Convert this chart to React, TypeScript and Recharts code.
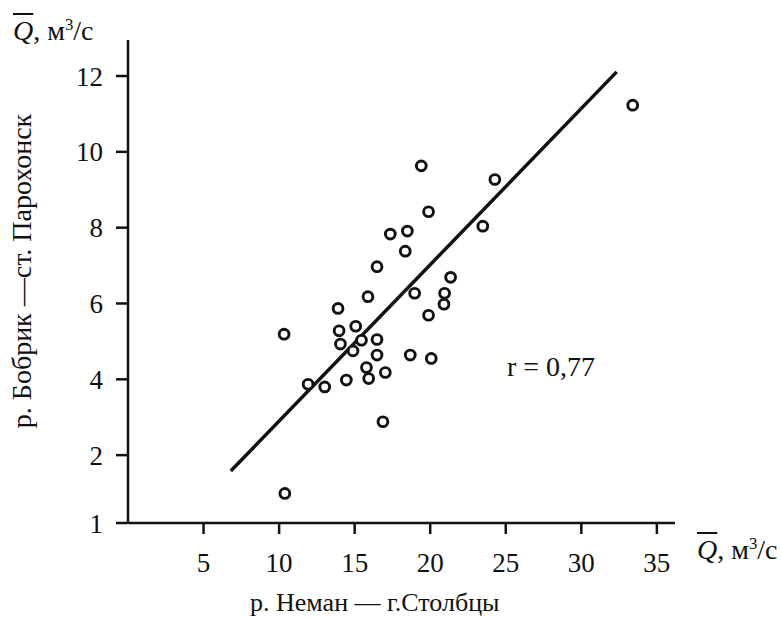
import { ScatterChart, Scatter, XAxis, YAxis, ReferenceLine } from 'recharts';

// mean flow, р. Неман — г.Столбцы (m3/s)
const nemanQ = [
  19.41, 24.28, 19.89, 17.36, 18.49, 23.48, 18.35, 16.48, 21.35, 18.97, 20.95,
  15.88, 20.91, 13.9, 19.89, 10.33, 15.07, 13.97, 14.06, 15.45, 16.48, 14.89,
  16.48, 18.68, 20.07, 15.78, 17.03, 15.93, 14.45, 11.92, 13.02, 16.87, 10.38, 33.4,
];
// mean flow, р. Бобрик — ст. Парохонск (m3/s)
const bobrikQ = [
  9.63, 9.27, 8.42, 7.83, 7.91, 8.04, 7.38, 6.97, 6.69, 6.27, 6.27,
  6.18, 5.98, 5.87, 5.69, 5.19, 5.4, 5.28, 4.93, 5.03, 5.05, 4.75,
  4.64, 4.64, 4.55, 4.31, 4.18, 4.02, 3.98, 3.87, 3.8, 2.88, 0.99, 11.23,
];
// regression line ends
const fitX = [6.8, 32.34];
const fitY = [1.58, 12.11];

const xTicks = [5, 10, 15, 20, 25, 30, 35];
const yOrigin = 0.21; // the axis corner is labelled "1"
const yTicks = [yOrigin, 2, 4, 6, 8, 10, 12];

const points = nemanQ.map((x, i) => ({ x, y: bobrikQ[i] }));

const font = '"Liberation Serif", "Times New Roman", serif';
const ink = '#111';

const Ring = (props: any) => (
  <circle cx={props.cx} cy={props.cy} r={4.9} fill="#fff" stroke={ink} strokeWidth={2.9} />
);

const Unit = () => (
  <>
    <span style={{ fontStyle: 'italic', textDecoration: 'overline' }}>Q</span>, м
    <sup style={{ fontSize: '0.6em', verticalAlign: '0.6em', lineHeight: 0 }}>3</sup>/с
  </>
);

const textBase = {
  position: 'absolute' as const,
  fontFamily: font,
  color: ink,
  fontSize: 26,
  lineHeight: 1,
  whiteSpace: 'nowrap' as const,
};

const tickStyle = { fill: ink, fontSize: 27, fontFamily: font, style: { fontFamily: font } };

export default function App() {
  return (
    <div
      style={{
        position: 'absolute',
        left: 0,
        top: 0,
        width: 781,
        height: 618,
        background: '#fff',
        fontFamily: font,
      }}
    >
      <ScatterChart
        width={781}
        height={618}
        margin={{ top: 40, right: 106, bottom: 35, left: 28 }}
        style={{ fontFamily: font }}
      >
        <XAxis
          type="number"
          dataKey="x"
          domain={[0, 36.2]}
          ticks={xTicks}
          tickSize={11}
          tickMargin={19}
          height={60}
          axisLine={{ stroke: ink, strokeWidth: 2.5 }}
          tickLine={{ stroke: ink, strokeWidth: 2.5 }}
          tick={tickStyle}
        />
        <YAxis
          type="number"
          dataKey="y"
          domain={[yOrigin, 12.95]}
          ticks={yTicks}
          tickFormatter={(v: number) => (v === yOrigin ? '1' : String(v))}
          tickSize={12}
          tickMargin={13}
          width={100}
          axisLine={{ stroke: ink, strokeWidth: 2.5 }}
          tickLine={{ stroke: ink, strokeWidth: 2.5 }}
          tick={tickStyle}
        />
        <ReferenceLine
          segment={[
            { x: fitX[0], y: fitY[0] },
            { x: fitX[1], y: fitY[1] },
          ]}
          stroke={ink}
          strokeWidth={3.5}
        />
        <Scatter data={points} shape={Ring} isAnimationActive={false} />
      </ScatterChart>

      <div style={{ ...textBase, left: 13, top: 17, fontSize: 28 }}>
        <Unit />
      </div>
      <div style={{ ...textBase, left: 697, top: 536, fontSize: 28 }}>
        <Unit />
      </div>
      <div style={{ ...textBase, left: 507, top: 353, fontSize: 28 }}>r = 0,77</div>
      <div style={{ ...textBase, left: 250, top: 590 }}>р. Неман — г.Столбцы</div>
      <div
        style={{
          ...textBase,
          left: 22,
          top: 271,
          fontSize: 28,
          transform: 'translate(-50%, -50%) rotate(-90deg)',
        }}
      >
        р. Бобрик —ст. Парохонск
      </div>
    </div>
  );
}
